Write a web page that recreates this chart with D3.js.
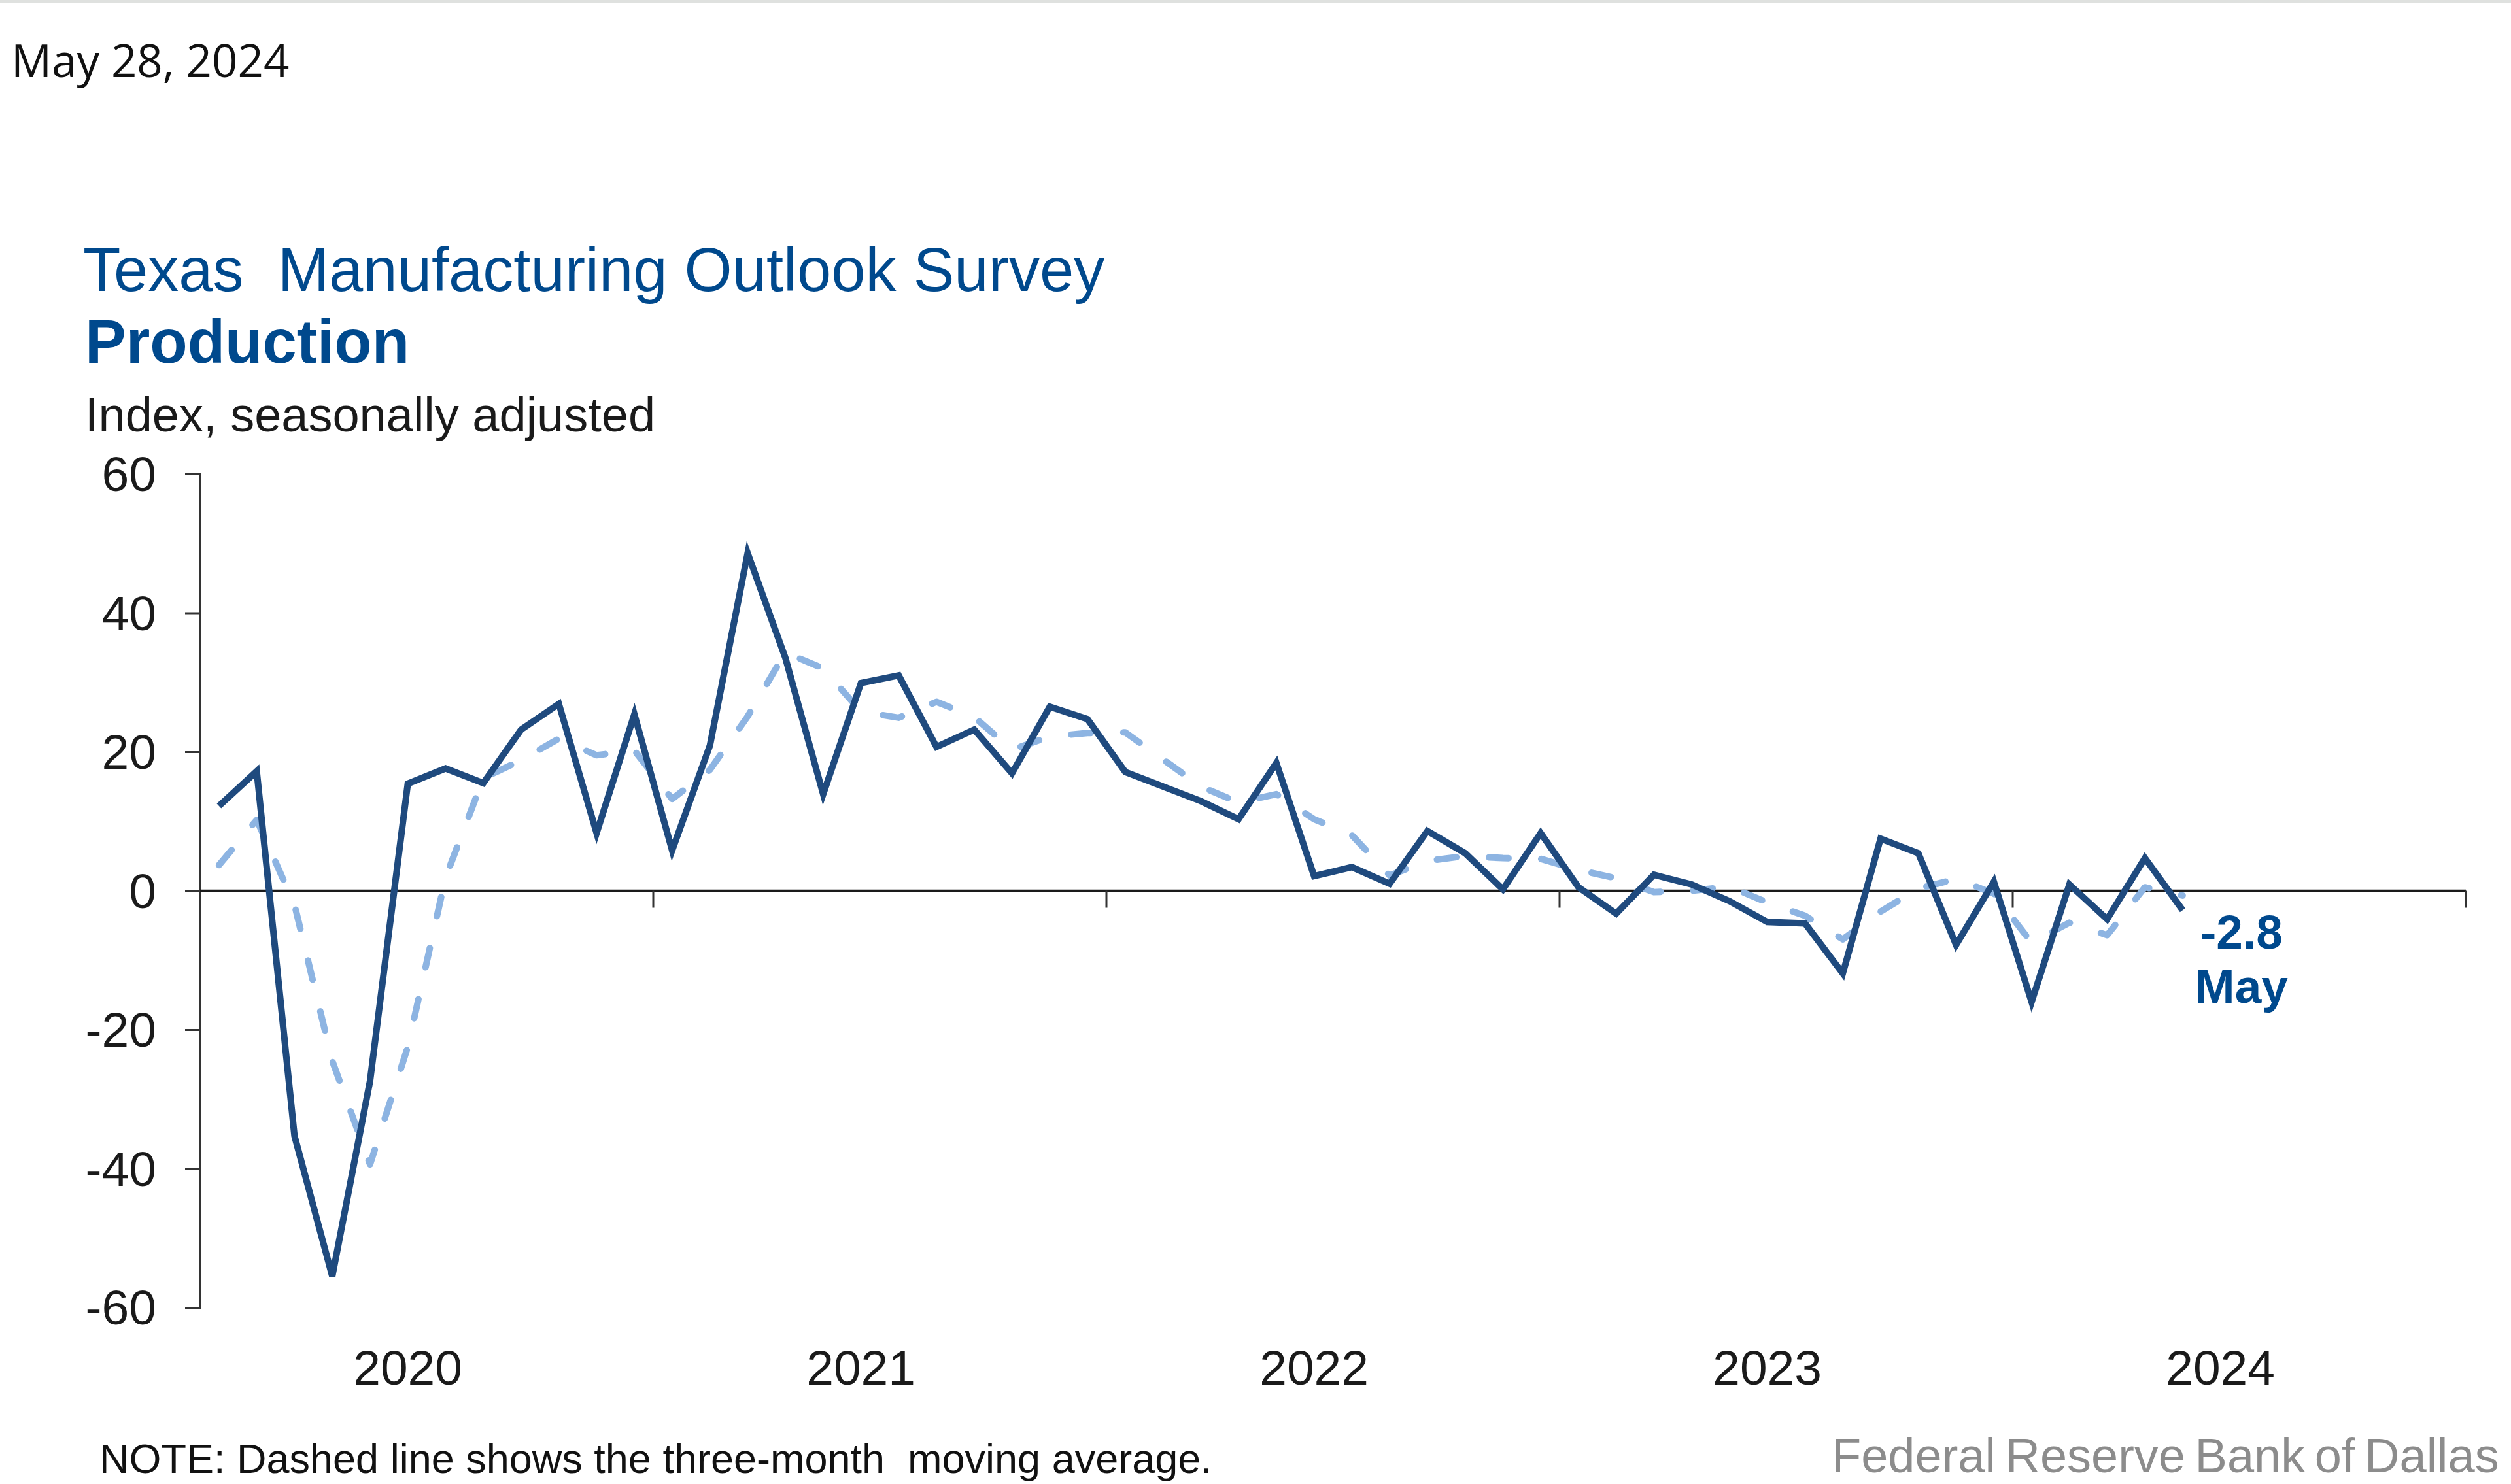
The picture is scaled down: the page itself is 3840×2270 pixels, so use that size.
<!DOCTYPE html>
<html>
<head>
<meta charset="utf-8">
<script src="https://cdn.jsdelivr.net/npm/d3@7"></script>
<style>
  html, body { margin: 0; padding: 0; background: #ffffff; }
  svg { display: block; }
</style>
</head>
<body>
<svg id="chart" width="3840" height="2270"></svg>
<script>
// ---------------- DATA ----------------
const years = ["2020", "2021", "2022", "2023", "2024"];
const months = ["Jan","Feb","Mar","Apr","May","Jun","Jul","Aug","Sep","Oct","Nov","Dec"];

// monthly production index, Jan 2020 – May 2024
const production = [
  12.2, 17.2, -35.3, -55.5, -27.4, 15.4, 17.6, 15.5, 23.2, 26.9, 8.3, 25.4,   // 2020
  5.8, 20.9, 48.6, 33.5, 13.9, 29.9, 31.0, 20.7, 23.2, 16.9, 26.5, 24.7,      // 2021
  17.1, 15.0, 12.9, 10.3, 18.4, 2.1, 3.4, 1.0, 8.6, 5.4, 0.2, 8.3,            // 2022
  0.5, -3.3, 2.3, 0.9, -1.5, -4.5, -4.7, -11.9, 7.5, 5.4, -7.8, 1.3,          // 2023
  -16.0, 0.9, -4.1, 4.7, -2.8                                                 // 2024
];

// three-month moving average, Jan 2020 – May 2024
const movingAvg = [
  3.7, 10.2, -2.0, -24.5, -39.4, -22.5, 1.9, 16.2, 18.8, 21.9, 19.5, 20.2,   // 2020
  13.2, 17.4, 25.1, 34.3, 32.0, 25.8, 24.9, 27.2, 25.0, 20.3, 22.2, 22.7,    // 2021
  22.8, 18.9, 15.0, 12.7, 13.9, 10.3, 8.0, 2.2, 4.3, 5.0, 4.7, 4.6,          // 2022
  3.0, 1.8, -0.2, 0.0, 0.6, -1.7, -3.6, -7.0, -3.0, 0.3, 1.7, -0.4,          // 2023
  -7.5, -4.6, -6.4, 0.5, -0.7                                                // 2024
];

const yTicks = [60, 40, 20, 0, -20, -40, -60];
const lastLabel = "May";

// ---------------- LAYOUT ----------------
const svg = d3.select("#chart");
const FONT = "'Liberation Sans', Arial, sans-serif";
const titleBlue = "#00498D";

// top gray strip
svg.append("rect").attr("x", 0).attr("y", 0).attr("width", 3840).attr("height", 5).attr("fill", "#dfe1df");

// date
svg.append("text").attr("x", 17).attr("y", 118)
  .attr("font-family", "'Open Sans', sans-serif").attr("font-size", 69).attr("fill", "#111")
  .text("May 28, 2024");

// titles
svg.append("text").attr("x", 127).attr("y", 445)
  .attr("font-family", FONT).attr("font-size", 94).attr("fill", titleBlue)
  .attr("xml:space", "preserve").style("white-space", "pre")
  .text("Texas  Manufacturing Outlook Survey");
svg.append("text").attr("x", 130).attr("y", 555)
  .attr("font-family", FONT).attr("font-size", 94).attr("font-weight", "bold").attr("fill", titleBlue)
  .text("Production");
svg.append("text").attr("x", 130).attr("y", 660)
  .attr("font-family", FONT).attr("font-size", 74).attr("fill", "#1a1a1a")
  .text("Index, seasonally adjusted");

// scales
const axisMonths = [];
years.forEach(yr => months.forEach(m => axisMonths.push(m + " " + yr)));
const dataMonths = axisMonths.slice(0, production.length);

const x = d3.scaleBand().domain(axisMonths).range([306, 3771]).paddingInner(0).paddingOuter(0);
const y = d3.scaleLinear().domain([-60, 60]).range([2000, 725]);
const xc = m => x(m) + x.bandwidth() / 2;
const fmtHyphen = v => String(v).replace("\u2212", "-");

// y axis
const yAxis = d3.axisLeft(y).tickValues(yTicks).tickSize(23).tickPadding(44).tickFormat(d => fmtHyphen(d));
const gy = svg.append("g").attr("transform", "translate(306,0)").call(yAxis);
gy.select(".domain").attr("stroke", "#333").attr("stroke-width", 3);
gy.selectAll(".tick line").attr("stroke", "#333").attr("stroke-width", 3);
gy.selectAll(".tick text").attr("font-family", FONT).attr("font-size", 75).attr("fill", "#1a1a1a")
  .attr("dy", "0.34em");

// x axis along zero
const tickMonths = years.slice(1).map(yr => "Jan " + yr);
const gx = svg.append("g").attr("transform", `translate(0,${y(0)})`);
gx.append("line").attr("x1", 306).attr("x2", 3771).attr("y1", 0).attr("y2", 0)
  .attr("stroke", "#1a1a1a").attr("stroke-width", 3.5);
gx.selectAll("line.tk").data(tickMonths.map(m => x(m)).concat([x.range()[1]]))
  .enter().append("line").attr("class", "tk")
  .attr("x1", d => d).attr("x2", d => d).attr("y1", 0).attr("y2", 26)
  .attr("stroke", "#333").attr("stroke-width", 3);

// year labels at bottom
svg.selectAll("text.year").data(years).enter().append("text").attr("class", "year")
  .attr("x", yr => x("Jun " + yr) + x.bandwidth() / 2)
  .attr("y", 2118)
  .attr("text-anchor", "middle")
  .attr("font-family", FONT).attr("font-size", 75).attr("fill", "#1a1a1a")
  .text(d => d);

// lines
const line = d3.line().x((d, i) => xc(dataMonths[i])).y(d => y(d));

svg.append("path").datum(movingAvg).attr("d", line)
  .attr("fill", "none").attr("stroke", "#8DB4E2").attr("stroke-width", 10)
  .attr("stroke-dasharray", "30 50").attr("stroke-linecap", "round").attr("stroke-linejoin", "round");

svg.append("path").datum(production).attr("d", line)
  .attr("fill", "none").attr("stroke", "#1F4A7E").attr("stroke-width", 10)
  .attr("stroke-linejoin", "miter");

// last value annotation
const lastIdx = production.length - 1;
const lx = xc(dataMonths[lastIdx]) + 90;
const ly = y(production[lastIdx]);
svg.append("text").attr("x", lx).attr("y", ly + 59).attr("text-anchor", "middle")
  .attr("font-family", FONT).attr("font-size", 73).attr("font-weight", "bold").attr("fill", titleBlue)
  .text(production[lastIdx].toFixed(1));
svg.append("text").attr("x", lx).attr("y", ly + 142).attr("text-anchor", "middle")
  .attr("font-family", FONT).attr("font-size", 73).attr("font-weight", "bold").attr("fill", titleBlue)
  .text(lastLabel);

// footer
svg.append("text").attr("x", 152).attr("y", 2253)
  .attr("font-family", FONT).attr("font-size", 63).attr("fill", "#111")
  .attr("xml:space", "preserve").style("white-space", "pre")
  .text("NOTE: Dashed line shows the three-month  moving average.");
svg.append("text").attr("x", 2801).attr("y", 2252)
  .attr("font-family", FONT).attr("font-size", 74).attr("fill", "#8c8c8c")
  .attr("word-spacing", -6)
  .text("Federal Reserve Bank of Dallas");
</script>
</body>
</html>
